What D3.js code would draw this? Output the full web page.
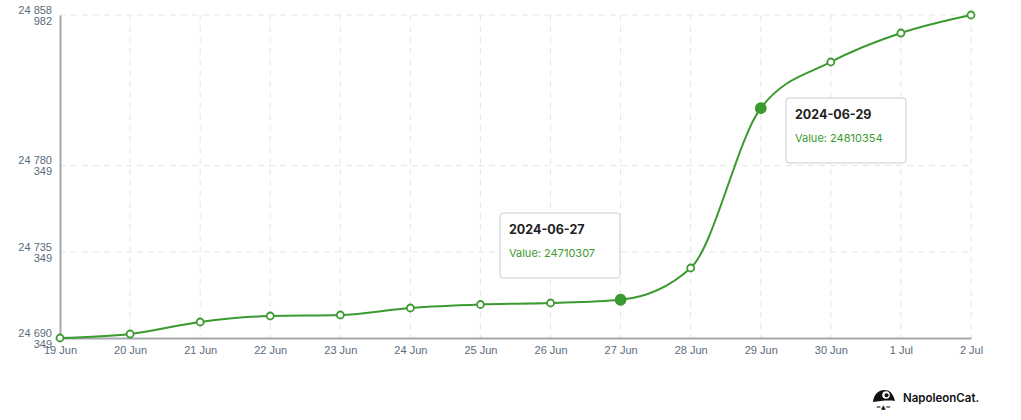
<!DOCTYPE html>
<html>
<head>
<meta charset="utf-8">
<script src="https://cdn.jsdelivr.net/npm/d3@7"></script>
<style>
  body { margin: 0; background: #fff; }
  .tick text { font-family: "Liberation Sans", Arial, sans-serif; }
</style>
</head>
<body>
<div id="chart"></div>
<script>
// Data
var days = ["19 Jun", "20 Jun", "21 Jun", "22 Jun", "23 Jun", "24 Jun", "25 Jun",
            "26 Jun", "27 Jun", "28 Jun", "29 Jun", "30 Jun", "1 Jul", "2 Jul"];
var dates = ["2024-06-19", "2024-06-20", "2024-06-21", "2024-06-22", "2024-06-23", "2024-06-24", "2024-06-25",
             "2024-06-26", "2024-06-27", "2024-06-28", "2024-06-29", "2024-06-30", "2024-07-01", "2024-07-02"];
var values = [24690349, 24692437, 24698701, 24701835, 24702357, 24706012, 24707833,
              24708620, 24710307, 24726893, 24810354, 24834449, 24849577, 24858982];
var yTicks = [24690349, 24735349, 24780349, 24858982];
var tipDays = ["2024-06-27", "2024-06-29"];

var width = 1021, height = 420;
// plot edges (avoid "top", it's window.top)
var plotL = 60, plotR = 971, plotT = 15, plotB = 338;
var green = "#3b9a2f";

var svg = d3.select("#chart").append("svg")
    .attr("width", width)
    .attr("height", height);

var x = d3.scalePoint().domain(days).range([plotL, plotR]);
var y = d3.scaleLinear().domain([yTicks[0], yTicks[yTicks.length - 1]]).range([plotB, plotT]);

// gridlines
svg.append("g").selectAll("line").data(days.slice(1)).join("line")
    .attr("x1", d => x(d)).attr("x2", d => x(d))
    .attr("y1", plotT).attr("y2", plotB)
    .attr("stroke", "#e6e6e6").attr("stroke-dasharray", "6,5");
svg.append("g").selectAll("line").data(yTicks.slice(1)).join("line")
    .attr("x1", plotL).attr("x2", plotR)
    .attr("y1", d => y(d)).attr("y2", d => y(d))
    .attr("stroke", "#e6e6e6").attr("stroke-dasharray", "6,5");

// x axis
var xAxis = svg.append("g")
    .attr("transform", "translate(0," + plotB + ")")
    .call(d3.axisBottom(x).tickSize(0).tickPadding(8));
xAxis.select(".domain").attr("stroke", "#a3a8ad").attr("stroke-width", 2);
xAxis.selectAll("text").attr("fill", "#5b6b7c").attr("font-size", 11);

// y axis with two-line labels
var yAxis = svg.append("g")
    .attr("transform", "translate(" + plotL + ",0)")
    .call(d3.axisLeft(y).tickValues(yTicks).tickSize(0).tickPadding(8).tickFormat(""));
yAxis.select(".domain").attr("stroke", "#a3a8ad").attr("stroke-width", 2);
yAxis.selectAll(".tick text").each(function(d) {
    var s = String(d);
    var t = d3.select(this).attr("fill", "#5b6b7c").attr("font-size", 11).attr("dy", null);
    t.append("tspan").attr("x", -8).attr("dy", "-0.15em").text(s.slice(0, 2) + " " + s.slice(2, 5));
    t.append("tspan").attr("x", -8).attr("dy", "1em").text(s.slice(5));
});

// line
var pts = values.map((v, i) => [x(days[i]), y(v)]);
svg.append("path")
    .datum(pts)
    .attr("fill", "none")
    .attr("stroke", green)
    .attr("stroke-width", 2)
    .attr("d", d3.line().curve(d3.curveMonotoneX));

svg.append("g").selectAll("circle").data(values).join("circle")
    .attr("cx", (d, i) => x(days[i]))
    .attr("cy", d => y(d))
    .attr("r", (d, i) => tipDays.includes(dates[i]) ? 5 : 3.5)
    .attr("fill", (d, i) => tipDays.includes(dates[i]) ? green : "#fff")
    .attr("stroke", green)
    .attr("stroke-width", 1.8);

// tooltips
var tipPos = { "2024-06-27": [500, 213], "2024-06-29": [786, 98] };
tipDays.forEach(function(dt) {
    var i = dates.indexOf(dt);
    var p = tipPos[dt];
    var g = svg.append("g").attr("transform", "translate(" + p[0] + "," + p[1] + ")");
    g.append("rect").attr("width", 120).attr("height", 65).attr("rx", 3)
        .attr("fill", "#fff").attr("stroke", "#c9ced3");
    g.append("text").attr("x", 9).attr("y", 21)
        .attr("font-family", "Inter, 'Noto Sans', sans-serif").attr("font-weight", 700)
        .attr("font-size", 12.5).attr("fill", "#222").text(dt);
    g.append("text").attr("x", 9).attr("y", 44)
        .attr("font-family", "Inter, 'Noto Sans', sans-serif")
        .attr("font-size", 11).attr("fill", green).text("Value: " + values[i]);
});

// logo
var logo = svg.append("g").attr("transform", "translate(873,389)");
logo.append("path").attr("d", "M0,13 C1,3 9,-1 16,2 C19,4 21,8 22,12 C15,11 7,12 0,13 Z").attr("fill", "#111");
logo.append("circle").attr("cx", 13).attr("cy", 6).attr("r", 3.8).attr("fill", "#fff");
logo.append("circle").attr("cx", 13.5).attr("cy", 6.3).attr("r", 2).attr("fill", "#111");
logo.append("text").attr("x", 3).attr("y", 20).attr("font-size", 6).attr("fill", "#111")
    .attr("font-family", "DejaVu Sans").text("=▲=");
logo.append("text").attr("x", 30).attr("y", 13)
    .attr("font-family", "Inter, 'Noto Sans', sans-serif").attr("font-weight", 600)
    .attr("font-size", 11.5).attr("fill", "#111").text("NapoleonCat.");
</script>
</body>
</html>
